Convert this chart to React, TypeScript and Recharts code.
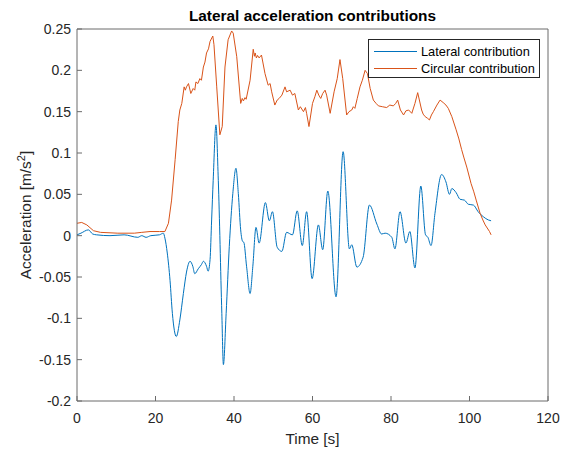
import React from "react";
import { LineChart, Line, XAxis, YAxis, Legend, Label, Customized } from "recharts";

// time stamps [s] and lateral contribution [m/s^2]
const latTime = [
  0, 1, 2.9, 4, 5, 8.4, 12, 15.5, 16.5, 17.6, 18.8, 21, 22, 22.4, 23, 23.7, 24.3, 25.3, 26.2, 27.1,
  27.9, 28.8, 29.5, 30, 30.9, 31.7, 32.2, 33, 33.4, 33.9, 34.3, 34.7, 35.4, 36, 36.9, 37.3, 38, 38.8,
  39.7, 40.5, 41.1, 41.7, 42.2, 42.5, 43.2, 44.1, 44.8, 45.6, 46.4, 48, 49, 49.8, 51, 52.2, 53.4,
  54.9, 56.1, 57.4, 58.5, 59.9, 61.5, 62.6, 63.9, 66, 67.8, 69.4, 70, 71.3, 72.9, 74.5, 76.4, 77.6,
  78.5, 80.2, 81, 82.3, 83.8, 84.8, 86.1, 87.6, 88.8, 89.4, 90.2, 91.2, 92.9, 94, 94.9, 95.5, 96.6,
  97.6, 98.7, 99.7, 101, 102.2, 103.5, 104.8, 105.5,
];
const latAccel = [
  0.001, 0.003, 0.007, 0.002, 0.001, 0, 0.001, -0.002, 0, -0.002, 0, 0.001, 0.003, -0.003, -0.021,
  -0.054, -0.094, -0.122, -0.102, -0.07, -0.044, -0.031, -0.037, -0.046, -0.04, -0.035, -0.031,
  -0.037, -0.043, -0.029, 0.019, 0.067, 0.134, 0.067, -0.094, -0.156, -0.094, -0.013, 0.051, 0.0815,
  0.051, 0.007, -0.007, -0.008, -0.037, -0.07, -0.037, 0.01, -0.009, 0.04, 0.018, 0.029, -0.014,
  -0.019, 0.004, 0.001, 0.03, -0.012, 0.029, -0.052, 0.013, -0.017, 0.054, -0.074, 0.1016, -0.016,
  -0.011, -0.038, -0.026, 0.037, 0.014, 0.002, 0.003, -0.002, -0.016, 0.029, -0.009, 0.005, -0.039,
  0.06, 0.001, -0.002, -0.012, 0.027, 0.074, 0.065, 0.05, 0.057, 0.052, 0.044, 0.043, 0.038, 0.037,
  0.029, 0.023, 0.019, 0.018,
];

// time stamps [s] and circular contribution [m/s^2]
const circTime = [
  0, 1.2, 2.5, 4.2, 6, 10.4, 14.6, 16.5, 18.6, 21,
  22.4, 23.3, 24.1, 25, 25.8, 26.2, 26.7, 27.3, 27.6, 27.9,
  28.4, 29, 29.6, 30, 30.3, 30.8, 31.3, 31.7, 32.2, 32.6,
  33, 33.5, 33.9, 34.6, 34.9, 35.6, 36.4, 37, 37.7, 38.5,
  39.4, 39.8, 40.7, 41.7, 42.1, 42.4, 42.8, 43.1, 44.1, 44.9,
  45.2, 45.4, 45.7, 46, 46.4, 47, 47.9, 48.7, 49.2, 49.6,
  50.4, 51, 51.5, 52.2, 53, 53.4, 54.3, 54.9, 55.5, 56.4,
  56.9, 57.7, 58.2, 58.5, 59.1, 60, 60.6, 61.1, 61.6, 62.1,
  62.6, 63.2, 63.6, 64.5, 65.5, 66.3, 67, 67.7, 68.7, 69.3,
  70, 70.4, 70.8, 71.4, 72.1, 72.7, 73.4, 74, 74.7, 75.5,
  76.2, 76.8, 77.8, 78.9, 79.7, 80.6, 81.2, 81.7, 82.4, 83.2,
  83.8, 84.5, 85.3, 86.1, 86.8, 87.8, 88.2, 88.7, 89.3, 89.8,
  90.3, 90.8, 91.7, 92.5, 93.3, 94, 94.6, 95.5, 96.6, 97.3,
  98, 98.6, 99.3, 100.4, 101.1, 101.7, 102.7, 103.4, 104, 105.1,
  105.5,
];
const circAccel = [
  0.015, 0.016, 0.013, 0.006, 0.004, 0.003, 0.003, 0.004, 0.005, 0.005,
  0.005, 0.015, 0.043, 0.092, 0.138, 0.152, 0.16, 0.18, 0.176, 0.18,
  0.184, 0.172, 0.178, 0.176, 0.186, 0.184, 0.19, 0.188, 0.204, 0.21,
  0.221, 0.226, 0.235, 0.2415, 0.231, 0.18, 0.122, 0.132, 0.204, 0.237,
  0.2476, 0.245, 0.2165, 0.16, 0.166, 0.163, 0.167, 0.165, 0.188, 0.2255,
  0.217, 0.221, 0.215, 0.218, 0.215, 0.2185, 0.196, 0.182, 0.184, 0.174,
  0.158, 0.164, 0.166, 0.17, 0.18, 0.174, 0.176, 0.17, 0.172, 0.152,
  0.156, 0.15, 0.155, 0.148, 0.132, 0.16, 0.168, 0.176, 0.17, 0.166,
  0.172, 0.176, 0.17, 0.148, 0.174, 0.19, 0.213, 0.19, 0.146, 0.15,
  0.152, 0.156, 0.154, 0.166, 0.18, 0.188, 0.2, 0.196, 0.178, 0.164,
  0.16, 0.157, 0.156, 0.155, 0.158, 0.157, 0.16, 0.164, 0.152, 0.146,
  0.151, 0.152, 0.148, 0.16, 0.173, 0.152, 0.147, 0.144, 0.142, 0.14,
  0.146, 0.15, 0.158, 0.164, 0.161, 0.158, 0.154, 0.144, 0.128, 0.117,
  0.104, 0.094, 0.083, 0.063, 0.053, 0.043, 0.027, 0.019, 0.013, 0.005,
  0.001,
];

const seriesNames = ["Lateral contribution", "Circular contribution"];
const xTicks = [0, 20, 40, 60, 80, 100, 120];
const yTicks = [-0.2, -0.15, -0.1, -0.05, 0, 0.05, 0.1, 0.15, 0.2, 0.25];

const FONT = "'Liberation Sans', Arial, Helvetica, sans-serif";
const AXIS = "#6b6b6b";
const TEXT = "#262626";

const lateral = latTime.map((t, i) => ({ t, v: latAccel[i] }));
const circular = circTime.map((t, i) => ({ t, v: circAccel[i] }));

const LegendBox = ({ payload }: any) => {
  const items = [...(payload || [])].sort(
    (a: any, b: any) => seriesNames.indexOf(a.value) - seriesNames.indexOf(b.value)
  );
  return (
    <div
      style={{
        width: 172,
        height: 39,
        border: "1px solid #262626",
        background: "#fff",
        fontFamily: FONT,
        fontSize: 12.8,
        color: "#000",
        paddingTop: 3,
        boxSizing: "border-box",
      }}
    >
      {items.map((p: any) => (
        <div key={p.value} style={{ display: "flex", alignItems: "center", height: 17 }}>
          <div style={{ width: 43, height: 1, background: p.color, marginLeft: 5, marginRight: 4 }} />
          <span>{p.value}</span>
        </div>
      ))}
    </div>
  );
};

const Title = () => (
  <text
    x={312.5}
    y={21}
    textAnchor="middle"
    fontFamily={FONT}
    fontSize={15.4}
    fontWeight="bold"
    fill="#000"
  >
    Lateral acceleration contributions
  </text>
);

export default function App() {
  return (
    <div style={{ position: "absolute", left: 0, top: 0, background: "#fff" }}>
      <LineChart
        width={572}
        height={453}
        margin={{ top: 28, right: 23, bottom: 22, left: 27 }}
      >
        <XAxis
          dataKey="t"
          type="number"
          domain={[0, 120]}
          ticks={xTicks}
          allowDataOverflow
          height={30}
          tickSize={-5}
          tickMargin={17}
          stroke={AXIS}
          tick={{ fill: TEXT, fontSize: 14, fontFamily: FONT }}
        >
          <Label
            value="Time [s]"
            position="bottom"
            offset={2}
            style={{ fill: TEXT, fontSize: 15.4, fontFamily: FONT }}
          />
        </XAxis>
        <XAxis
          xAxisId="top"
          orientation="top"
          type="number"
          domain={[0, 120]}
          ticks={xTicks}
          height={1}
          tickSize={-5}
          tick={false}
          stroke={AXIS}
        />
        <YAxis
          type="number"
          domain={[-0.2, 0.25]}
          ticks={yTicks}
          width={50}
          tickSize={-5}
          tickMargin={11}
          stroke={AXIS}
          tick={{ fill: TEXT, fontSize: 14, fontFamily: FONT }}
        >
          <Label
            content={() => (
              <text
                x={31}
                y={215}
                transform="rotate(-90 31 215)"
                textAnchor="middle"
                fontFamily={FONT}
                fontSize={15.4}
                fill={TEXT}
              >
                Acceleration [m/s
                <tspan fontSize={11} dy={-6}>2</tspan>
                <tspan dy={6}>]</tspan>
              </text>
            )}
          />
        </YAxis>
        <YAxis
          yAxisId="right"
          orientation="right"
          type="number"
          domain={[-0.2, 0.25]}
          ticks={yTicks}
          width={1}
          tickSize={-5}
          tick={false}
          stroke={AXIS}
        />
        <Legend
          layout="vertical"
          align="center"
          verticalAlign="middle"
          content={<LegendBox />}
          wrapperStyle={{ left: 368, top: 39, width: 172, height: 39 }}
        />
        <Line
          data={lateral}
          dataKey="v"
          name={seriesNames[0]}
          type="monotone"
          stroke="#0072BD"
          strokeWidth={1}
          dot={false}
          isAnimationActive={false}
        />
        <Line
          data={circular}
          dataKey="v"
          name={seriesNames[1]}
          type="linear"
          stroke="#D95319"
          strokeWidth={1}
          dot={false}
          isAnimationActive={false}
        />
        <Customized component={Title} />
      </LineChart>
    </div>
  );
}
